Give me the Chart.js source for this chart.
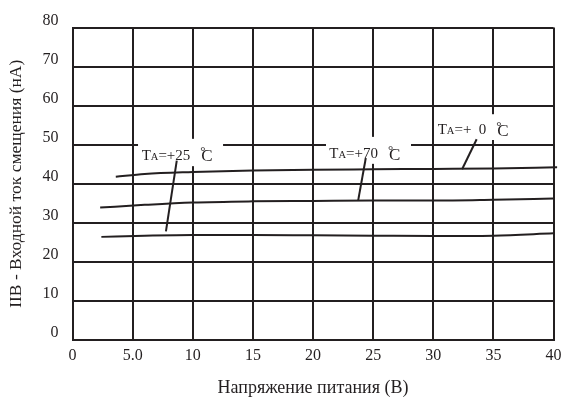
<!DOCTYPE html>
<html><head><meta charset="utf-8">
<script src="https://cdn.jsdelivr.net/npm/chart.js@4"></script>
<style>html,body{margin:0;padding:0;background:#fff}#w{width:569px;height:397px;position:relative}</style>
</head><body><div id="w"><canvas id="c" width="569" height="397"></canvas></div>
<script>
// ---- data ----
const xTickValues = [0, 5, 10, 15, 20, 25, 30, 35, 40];
const xTickLabels = ['0', '5.0', '10', '15', '20', '25', '30', '35', '40'];
const yTickLabels = ['0', '10', '20', '30', '40', '50', '60', '70', '80'];

const topV = [3.6, 6, 10, 15, 20, 25, 30, 35, 40.3];
const topI = [41.8, 42.5, 43.0, 43.4, 43.6, 43.7, 43.8, 43.9, 44.2];
const midV = [2.3, 6, 10, 15, 20, 25, 30, 35, 40];
const midI = [33.9, 34.6, 35.2, 35.5, 35.6, 35.7, 35.7, 35.9, 36.2];
const botV = [2.4, 6, 10, 15, 20, 25, 30, 35, 40];
const botI = [26.4, 26.7, 26.9, 26.9, 26.8, 26.7, 26.6, 26.7, 27.3];

// annotation labels (in data units)
const labelTemps = ['+25', '+70', '+  0'];
const labelLeftV = [5.75, 21.36, 30.37];
const labelBaseI = [46.1, 46.5, 52.7];
const boxLeftV = [5.45, 21.08, 30.2];
const boxRightV = [12.52, 28.15, 36.6];
const boxTopI = [51.5, 52.0, 57.8];
const boxBotI = [44.5, 45.1, 51.2];
const ptrFromV = [8.67, 24.39, 33.61];
const ptrFromI = [45.9, 46.6, 51.4];
const ptrToV = [7.77, 23.75, 32.4];
const ptrToI = [27.8, 35.6, 43.7];

const INK = '#231f20';
const FONT = "'Liberation Serif', 'Times New Roman', serif";

function pts(xs, ys) { return xs.map((x, i) => ({x: x, y: ys[i]})); }

const annot = {
  id: 'annot',
  afterDatasetsDraw(chart) {
    const ctx = chart.ctx, xs = chart.scales.x, ys = chart.scales.y;
    ctx.save();
    for (let i = 0; i < labelTemps.length; i++) {
      const x0 = xs.getPixelForValue(boxLeftV[i]), x1 = xs.getPixelForValue(boxRightV[i]);
      const y0 = ys.getPixelForValue(boxTopI[i]), y1 = ys.getPixelForValue(boxBotI[i]);
      ctx.fillStyle = '#fff';
      ctx.fillRect(x0, y0, x1 - x0, y1 - y0);
    }
    ctx.fillStyle = INK;
    ctx.textBaseline = 'alphabetic';
    ctx.textAlign = 'left';
    for (let i = 0; i < labelTemps.length; i++) {
      let x = xs.getPixelForValue(labelLeftV[i]);
      const y = ys.getPixelForValue(labelBaseI[i]);
      ctx.font = '15px ' + FONT;
      ctx.fillText('T', x, y); x += ctx.measureText('T').width;
      ctx.font = '10.5px ' + FONT;
      ctx.fillText('A', x, y); x += ctx.measureText('A').width;
      ctx.font = '15px ' + FONT;
      const s = '=' + labelTemps[i];
      ctx.fillText(s, x, y); x += ctx.measureText(s).width;
      x += 11;
      ctx.font = '17px ' + FONT;
      ctx.fillText('C', x, y + 1.5);
      ctx.font = '13px ' + FONT;
      ctx.fillText('°', x - 1, y - 4.5);
    }
    ctx.strokeStyle = INK;
    ctx.lineWidth = 2;
    for (let i = 0; i < labelTemps.length; i++) {
      ctx.beginPath();
      ctx.moveTo(xs.getPixelForValue(ptrFromV[i]), ys.getPixelForValue(ptrFromI[i]));
      ctx.lineTo(xs.getPixelForValue(ptrToV[i]), ys.getPixelForValue(ptrToI[i]));
      ctx.stroke();
    }
    ctx.restore();
  }
};

const lineDs = (data) => ({
  data: data, borderColor: INK, borderWidth: 2, pointRadius: 0,
  cubicInterpolationMode: 'monotone', fill: false, clip: false
});

new Chart(document.getElementById('c'), {
  type: 'line',
  data: { datasets: [lineDs(pts(topV, topI)), lineDs(pts(midV, midI)), lineDs(pts(botV, botI))] },
  options: {
    responsive: false, animation: false, devicePixelRatio: 1,
    layout: { padding: { left: 0, top: 27.5, right: 15.5, bottom: 0 } },
    plugins: { legend: { display: false }, tooltip: { enabled: false } },
    scales: {
      x: {
        type: 'linear', min: 0, max: 40,
        afterBuildTicks(s) { s.ticks = xTickValues.map(v => ({value: v})); },
        afterFit(s) { s.height = 57; },
        grid: { color: INK, lineWidth: 2, drawTicks: false },
        border: { color: INK, width: 2 },
        ticks: {
          color: INK, font: { family: FONT, size: 16 }, padding: 6, maxRotation: 0,
          callback: (v) => xTickLabels[xTickValues.indexOf(v)]
        },
        title: { display: true, text: 'Напряжение питания (В)', color: INK,
                 font: { family: FONT, size: 18, lineHeight: 1 }, padding: { top: 0, bottom: 0 } }
      },
      y: {
        type: 'linear', min: 0, max: 80,
        afterFit(s) { s.width = 72.5; },
        grid: { color: INK, lineWidth: 2, drawTicks: false },
        border: { color: INK, width: 2 },
        ticks: {
          stepSize: 10, color: INK, font: { family: FONT, size: 16 }, padding: 14, labelOffset: -7,
          callback: (v, i) => yTickLabels[i]
        },
        title: { display: true, text: 'IIB - Входной ток смещения (нA)', color: INK,
                 font: { family: FONT, size: 17.5, lineHeight: 1 }, padding: { top: 8, bottom: 0 } }
      }
    }
  },
  plugins: [annot]
});
</script></body></html>
